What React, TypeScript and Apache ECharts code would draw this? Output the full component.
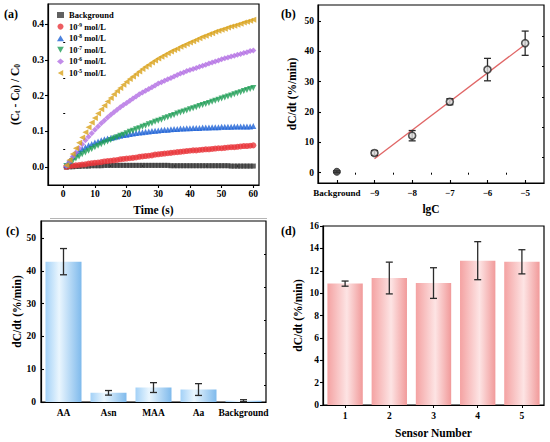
import React, { useEffect, useRef } from "react";
import * as echarts from "echarts";

// ---------- Panel (a): kinetics ----------
const timeS = [1,2,3,4,5,6,7,8,9,10,11,12,13,14,15,16,17,18,19,20,21,22,23,24,25,26,27,28,29,30,31,32,33,34,35,36,37,38,39,40,41,42,43,44,45,46,47,48,49,50,51,52,53,54,55,56,57,58,59,60];
const bgCurve = [0.000,0.001,0.001,0.002,0.002,0.003,0.003,0.003,0.004,0.004,0.004,0.004,0.005,0.005,0.005,0.005,0.005,0.005,0.005,0.005,0.005,0.005,0.005,0.005,0.005,0.005,0.005,0.005,0.005,0.005,0.005,0.005,0.005,0.004,0.004,0.004,0.004,0.004,0.004,0.004,0.004,0.004,0.004,0.004,0.004,0.004,0.004,0.004,0.004,0.004,0.004,0.004,0.003,0.003,0.003,0.003,0.003,0.003,0.003,0.003];
const c9Curve = [0.001,0.003,0.004,0.005,0.006,0.007,0.008,0.010,0.011,0.012,0.013,0.014,0.016,0.017,0.018,0.019,0.020,0.022,0.023,0.024,0.025,0.026,0.027,0.029,0.030,0.031,0.032,0.033,0.035,0.036,0.037,0.038,0.039,0.040,0.041,0.042,0.043,0.044,0.045,0.046,0.047,0.047,0.048,0.049,0.050,0.050,0.051,0.052,0.053,0.053,0.054,0.055,0.056,0.056,0.057,0.058,0.059,0.059,0.060,0.061];
const c8Curve = [0.006,0.018,0.029,0.038,0.045,0.051,0.056,0.061,0.065,0.069,0.072,0.075,0.078,0.080,0.082,0.084,0.086,0.088,0.090,0.091,0.093,0.094,0.096,0.097,0.098,0.099,0.100,0.101,0.102,0.103,0.104,0.105,0.105,0.106,0.107,0.107,0.108,0.108,0.109,0.109,0.110,0.110,0.110,0.111,0.111,0.111,0.112,0.112,0.112,0.113,0.113,0.113,0.113,0.114,0.114,0.114,0.114,0.114,0.114,0.115];
const c7Curve = [0.003,0.010,0.017,0.024,0.030,0.036,0.041,0.046,0.051,0.056,0.060,0.064,0.068,0.072,0.076,0.080,0.084,0.088,0.091,0.095,0.099,0.102,0.106,0.109,0.113,0.116,0.120,0.123,0.127,0.130,0.133,0.137,0.140,0.143,0.146,0.150,0.153,0.156,0.159,0.162,0.165,0.168,0.171,0.174,0.177,0.180,0.183,0.186,0.189,0.192,0.195,0.198,0.201,0.204,0.207,0.210,0.213,0.216,0.219,0.222];
const c6Curve = [0.004,0.016,0.029,0.041,0.053,0.064,0.075,0.085,0.095,0.105,0.114,0.123,0.131,0.139,0.147,0.154,0.161,0.168,0.174,0.180,0.186,0.192,0.198,0.204,0.209,0.214,0.219,0.224,0.229,0.234,0.238,0.242,0.246,0.250,0.254,0.258,0.262,0.265,0.269,0.272,0.275,0.278,0.281,0.284,0.287,0.290,0.293,0.296,0.299,0.302,0.305,0.307,0.310,0.312,0.315,0.317,0.320,0.322,0.325,0.327];
const c5Curve = [0.005,0.020,0.037,0.053,0.068,0.083,0.098,0.112,0.125,0.138,0.150,0.162,0.173,0.184,0.194,0.204,0.213,0.222,0.231,0.239,0.247,0.254,0.261,0.268,0.275,0.281,0.287,0.293,0.299,0.304,0.309,0.314,0.319,0.324,0.328,0.332,0.337,0.341,0.345,0.349,0.353,0.357,0.361,0.365,0.368,0.372,0.375,0.379,0.382,0.385,0.388,0.391,0.394,0.396,0.399,0.402,0.405,0.407,0.410,0.413];
const seriesNamesA = ["Background", "10^-9", "10^-8", "10^-7", "10^-6", "10^-5"];
const exponentsA = ["", "-9", "-8", "-7", "-6", "-5"];
const xTicksA = [0, 10, 20, 30, 40, 50, 60];
const xMinorA = [5, 15, 25, 35, 45, 55];
const yTicksA = [0, 0.1, 0.2, 0.3, 0.4];
const yMinorA = [0.05, 0.15, 0.25, 0.35];

// ---------- Panel (b): calibration ----------
const lgC = [-10, -9, -8, -7, -6, -5];
const rateB = [0.3, 6.5, 12.2, 23.4, 34.0, 42.7];
const errB = [0.3, 0.8, 1.7, 1.0, 3.7, 4.0];
const xTickLabelsB = ["Background", "\u22129", "\u22128", "\u22127", "\u22126", "\u22125"];
const xMinorB = [-9.5, -8.5, -7.5, -6.5, -5.5];
const yTicksB = [0, 10, 20, 30, 40, 50];
const yMinorB = [5, 15, 25, 35, 45];
const fitX = [-9, -5];
const fitY = [4.6, 42.3];

// ---------- Panel (c): selectivity ----------
const analytes = ["AA", "Asn", "MAA", "Aa", "Background"];
const rateC = [42.8, 2.8, 4.4, 3.8, 0.4];
const errC = [4.0, 0.7, 1.5, 1.8, 0.3];
const yTicksC = [0, 10, 20, 30, 40, 50];
const yMinorC = [5, 15, 25, 35, 45];

// ---------- Panel (d): reproducibility ----------
const sensors = ["1", "2", "3", "4", "5"];
const rateD = [10.85, 11.35, 10.9, 12.9, 12.8];
const errD = [0.23, 1.42, 1.37, 1.7, 1.08];
const yTicksD = [0, 2, 4, 6, 8, 10, 12, 14, 16];

const FONT = "'Liberation Serif', 'Times New Roman', serif";
const colorsA = ["#3a3a3a", "#e8343a", "#1f63d6", "#1e9e55", "#b36fe3", "#d9a21c"];
const symbolsA = ["rect", "circle", "triangle", "path://M0,0 L10,0 L5,9 Z", "diamond", "path://M9,0 L9,10 L0,5 Z"];
const curvesA = [bgCurve, c9Curve, c8Curve, c7Curve, c6Curve, c5Curve];

const labelStyle = { fontFamily: FONT, fontWeight: "bold" as const, fontSize: 9.5, color: "#000" };
const nameStyle = { fontFamily: FONT, fontWeight: "bold" as const, fontSize: 11.5, color: "#000" };
const axisLine = { show: true, onZero: false, lineStyle: { color: "#000", width: 1.2 } };

function majorAxis(gridIndex: number, min: number, max: number, ticks: number[], inside: boolean, extra: any = {}) {
  return {
    type: "value",
    gridIndex,
    min,
    max,
    axisLine,
    splitLine: { show: false },
    axisTick: { show: true, inside, length: 3, customValues: ticks, lineStyle: { color: "#000", width: 1.1 } },
    axisLabel: { ...labelStyle, customValues: ticks, margin: 4 },
    ...extra,
  };
}
function minorAxis(gridIndex: number, min: number, max: number, ticks: number[], inside: boolean) {
  return {
    type: "value",
    gridIndex,
    min,
    max,
    axisLine: { show: false },
    splitLine: { show: false },
    axisLabel: { show: false },
    axisTick: { show: true, inside, length: 2, customValues: ticks, lineStyle: { color: "#000" } },
  };
}

function errRender(capHalf: number) {
  return (params: any, api: any) => {
    const x = api.value(0);
    const y = api.value(1);
    const e = api.value(2);
    const hi = api.coord([x, y + e]);
    const lo = api.coord([x, y - e]);
    const style = { stroke: "#2b2b2b", lineWidth: 1.3 };
    return {
      type: "group",
      children: [
        { type: "line", shape: { x1: hi[0], y1: hi[1], x2: lo[0], y2: lo[1] }, style },
        { type: "line", shape: { x1: hi[0] - capHalf, y1: hi[1], x2: hi[0] + capHalf, y2: hi[1] }, style },
        { type: "line", shape: { x1: lo[0] - capHalf, y1: lo[1], x2: lo[0] + capHalf, y2: lo[1] }, style },
      ],
    };
  };
}

export default function App() {
  const ref = useRef<HTMLDivElement>(null);
  useEffect(() => {
    if (!ref.current) return;
    const chart = echarts.init(ref.current, null, { renderer: "svg" });

    const blueGrad = new echarts.graphic.LinearGradient(0, 0, 1, 0, [
      { offset: 0, color: "#a3d1f7" },
      { offset: 0.38, color: "#eaf6fe" },
      { offset: 1, color: "#7fbaec" },
    ]);
    const pinkGrad = new echarts.graphic.LinearGradient(0, 0, 1, 0, [
      { offset: 0, color: "#f4a2a2" },
      { offset: 0.55, color: "#fde4e4" },
      { offset: 1, color: "#f19a9a" },
    ]);

    const gridBox = { show: true, borderColor: "#000", borderWidth: 1.2, backgroundColor: "transparent" };

    const seriesA = curvesA.map((curve, i) => ({
      name: seriesNamesA[i],
      type: "scatter",
      xAxisIndex: 0,
      yAxisIndex: 0,
      symbol: symbolsA[i],
      symbolSize: i === 0 ? 5 : 6,
      itemStyle: { color: colorsA[i] },
      data: curve.map((v, k) => [timeS[k], v]),
    }));

    const option: any = {
      animation: false,
      textStyle: { fontFamily: FONT },
      grid: [
        { left: 48, top: 4, width: 211, height: 181, ...gridBox },
        { left: 318, top: 5, width: 226, height: 178, ...gridBox },
        { left: 41, top: 221, width: 225, height: 181, ...gridBox },
        { left: 323, top: 226, width: 221, height: 179, ...gridBox },
      ],
      legend: {
        data: seriesNamesA.map((n, i) => ({ name: n, icon: symbolsA[i] })),
        orient: "vertical",
        left: 57,
        top: 10,
        itemWidth: 7,
        itemHeight: 6,
        itemGap: 1.6,
        padding: 0,
        formatter: (name: string) => {
          const i = seriesNamesA.indexOf(name);
          return i === 0 ? "{n|Background}" : "{n|10}{sup|" + exponentsA[i] + "}{n| mol/L}";
        },
        textStyle: {
          fontFamily: FONT,
          fontWeight: "bold",
          fontSize: 8.5,
          color: "#000",
          lineHeight: 10,
          rich: {
            n: { fontFamily: FONT, fontWeight: "bold", fontSize: 8.5, color: "#000", lineHeight: 10 },
            sup: { fontFamily: FONT, fontWeight: "bold", fontSize: 5.5, color: "#000", verticalAlign: "top", lineHeight: 10, padding: [0, 0, 4, 0] },
          },
        },
      },
      xAxis: [
        majorAxis(0, -4.8, 61.8, xTicksA, false, {
          name: "Time (s)", nameLocation: "middle", nameGap: 19, nameTextStyle: nameStyle,
        }),
        {
          ...majorAxis(1, -10.5, -4.5, lgC, true, {
            name: "lgC", nameLocation: "middle", nameGap: 20, nameTextStyle: nameStyle,
          }),
          axisLabel: {
            ...labelStyle,
            fontSize: 9,
            customValues: lgC,
            margin: 5,
            formatter: (v: number) => xTickLabelsB[lgC.indexOf(Math.round(v))] ?? "",
          },
        },
        {
          type: "category",
          gridIndex: 2,
          data: analytes,
          axisLine,
          axisTick: { show: false },
          axisLabel: { ...labelStyle, margin: 6, interval: 0 },
        },
        {
          type: "category",
          gridIndex: 3,
          data: sensors,
          axisLine,
          axisTick: { show: true, alignWithLabel: true, length: 3, lineStyle: { color: "#000" } },
          axisLabel: { ...labelStyle, margin: 6 },
          name: "Sensor Number",
          nameLocation: "middle",
          nameGap: 22,
          nameTextStyle: nameStyle,
        },
        minorAxis(0, -4.8, 61.8, xMinorA, false),
        minorAxis(1, -10.5, -4.5, xMinorB, true),
      ],
      yAxis: [
        majorAxis(0, -0.05, 0.457, yTicksA, false, {
          name: "(C{s|t} - C{s|0}) / C{s|0}",
          nameLocation: "middle",
          nameGap: 27,
          nameTextStyle: {
            ...nameStyle,
            rich: {
              s: { fontFamily: FONT, fontWeight: "bold", fontSize: 7.5, color: "#000", verticalAlign: "bottom", padding: [4, 0, 0, 0] },
            },
          },
          axisLabel: { ...labelStyle, customValues: yTicksA, margin: 4, formatter: (v: number) => v.toFixed(1) },
        }),
        majorAxis(1, -3.4, 55.3, yTicksB, true, {
          name: "dC/dt (%/min)", nameLocation: "middle", nameGap: 20, nameTextStyle: nameStyle,
        }),
        majorAxis(2, 0, 55.2, yTicksC, true, {
          name: "dC/dt (%/min)", nameLocation: "middle", nameGap: 11, nameTextStyle: nameStyle,
          axisLabel: { ...labelStyle, customValues: yTicksC, margin: 5 },
        }),
        majorAxis(3, 0, 16, yTicksD, false, {
          name: "dC/dt (%/min)", nameLocation: "middle", nameGap: 19, nameTextStyle: nameStyle,
        }),
        minorAxis(0, -0.05, 0.457, yMinorA, false),
        minorAxis(1, -3.4, 55.3, yMinorB, true),
        minorAxis(2, 0, 55.2, yMinorC, true),
      ],
      series: [
        ...seriesA,
        {
          type: "line",
          xAxisIndex: 1,
          yAxisIndex: 1,
          data: fitX.map((x, i) => [x, fitY[i]]),
          showSymbol: false,
          lineStyle: { color: "#e06666", width: 1.3 },
          z: 2,
        },
        {
          type: "custom",
          xAxisIndex: 1,
          yAxisIndex: 1,
          renderItem: errRender(3.5),
          data: lgC.map((x, i) => [x, rateB[i], errB[i]]),
          encode: { x: 0, y: 1 },
          z: 3,
        },
        {
          type: "scatter",
          xAxisIndex: 1,
          yAxisIndex: 1,
          symbol: "circle",
          symbolSize: 7,
          data: lgC.map((x, i) => ({
            value: [x, rateB[i]],
            itemStyle: i === 0 ? { color: "#333", borderColor: "#222", borderWidth: 1 } : { color: "#dcdcdc", borderColor: "#2a2a2a", borderWidth: 1.6 },
          })),
          z: 4,
        },
        {
          type: "bar",
          xAxisIndex: 2,
          yAxisIndex: 2,
          barWidth: "80%",
          data: rateC,
          itemStyle: { color: blueGrad },
        },
        {
          type: "custom",
          xAxisIndex: 2,
          yAxisIndex: 2,
          renderItem: errRender(3.5),
          data: rateC.map((v, i) => [i, v, errC[i]]),
          encode: { x: 0, y: 1 },
          z: 5,
        },
        {
          type: "bar",
          xAxisIndex: 3,
          yAxisIndex: 3,
          barWidth: "80%",
          data: rateD,
          itemStyle: { color: pinkGrad },
        },
        {
          type: "custom",
          xAxisIndex: 3,
          yAxisIndex: 3,
          renderItem: errRender(3.5),
          data: rateD.map((v, i) => [i, v, errD[i]]),
          encode: { x: 0, y: 1 },
          z: 5,
        },
      ],
      graphic: [
        { type: "text", left: 4, top: 8, style: { text: "(a)", font: `bold 12px ${FONT}`, fill: "#000" } },
        { type: "text", left: 281, top: 8, style: { text: "(b)", font: `bold 12px ${FONT}`, fill: "#000" } },
        { type: "text", left: 6, top: 225, style: { text: "(c)", font: `bold 12px ${FONT}`, fill: "#000" } },
        { type: "text", left: 281, top: 225, style: { text: "(d)", font: `bold 12px ${FONT}`, fill: "#000" } },
        { type: "line", shape: { x1: 50, y1: 218.5, x2: 267, y2: 218.5 }, style: { stroke: "#b5b5b5", lineWidth: 1 } },
      ],
    };
    chart.setOption(option);
    return () => chart.dispose();
  }, []);
  return <div ref={ref} style={{ position: "fixed", left: 0, top: 0, width: 550, height: 442, background: "#fff" }} />;
}
